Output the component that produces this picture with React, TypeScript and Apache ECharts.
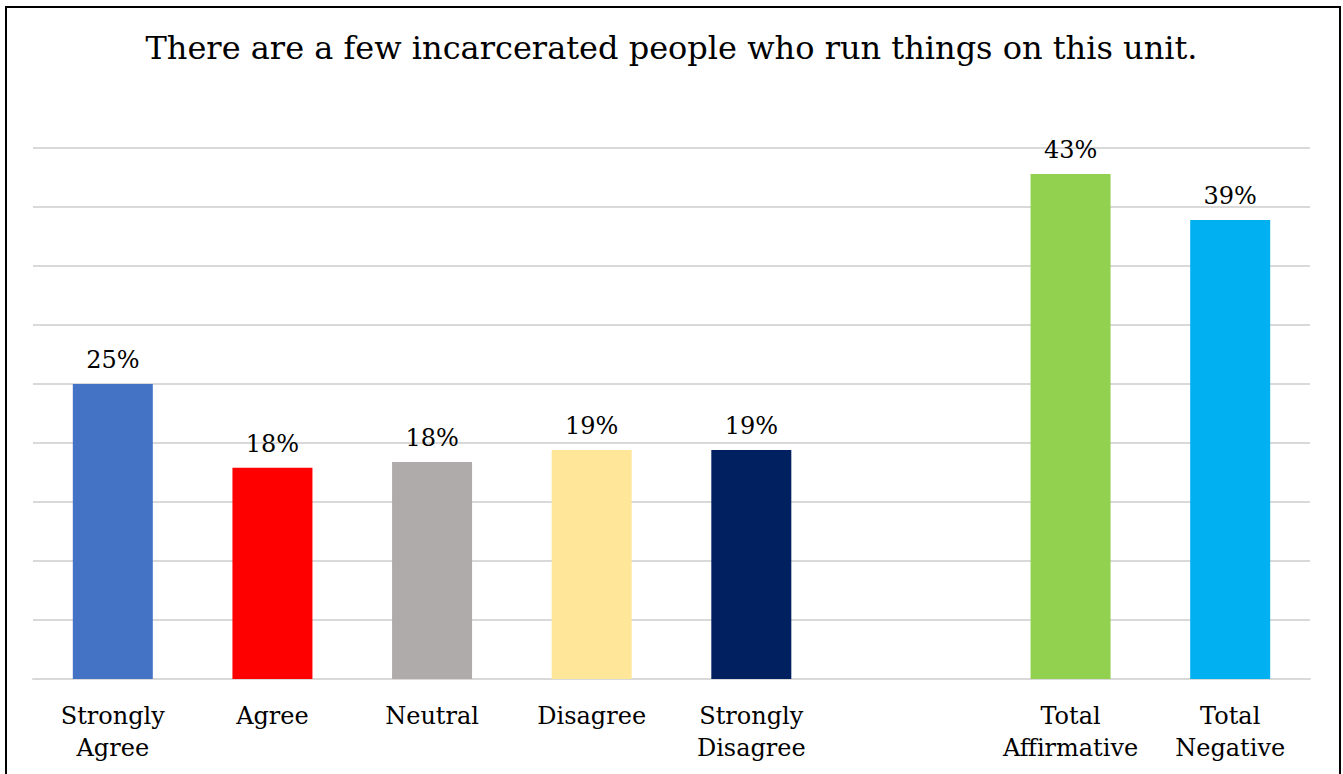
import React, { useEffect, useRef } from "react";
import * as echarts from "echarts";

const titleText = "There are a few incarcerated people who run things on this unit.";
const categories = ["Strongly\nAgree", "Agree", "Neutral", "Disagree", "Strongly\nDisagree", "", "Total\nAffirmative", "Total\nNegative"];
const values: (number | null)[] = [25, 17.9, 18.4, 19.4, 19.4, null, 42.8, 38.9];
const colors = ["#4472C4", "#FF0000", "#AFABAB", "#FFE699", "#002060", "#ffffff", "#92D050", "#00B0F0"];
const yTicks = { min: 0, max: 45, interval: 5 };

export default function App() {
  const ref = useRef<HTMLDivElement>(null);
  useEffect(() => {
    if (!ref.current) return;
    const chart = echarts.init(ref.current, null, { renderer: "svg" });
    chart.setOption({
      animation: false,
      backgroundColor: "#fff",
      graphic: [
        {
          type: "rect",
          shape: { x: 6, y: 7, width: 1334, height: 800 },
          style: { fill: "none", stroke: "#000", lineWidth: 2 },
          silent: true,
        },
      ],
      title: {
        text: titleText,
        left: "center",
        top: 27,
        textStyle: { fontFamily: "DejaVu Serif", fontSize: 32, fontWeight: "normal", color: "#000" },
      },
      grid: { left: 33, right: 33, top: 148, bottom: 95 },
      xAxis: {
        type: "category",
        data: categories,
        axisLine: { lineStyle: { color: "#d9d9d9", width: 2 } },
        axisTick: { show: false },
        axisLabel: {
          interval: 0,
          color: "#000",
          fontFamily: "DejaVu Serif",
          fontSize: 24,
          lineHeight: 32,
          margin: 21,
        },
      },
      yAxis: {
        type: "value",
        min: yTicks.min,
        max: yTicks.max,
        interval: yTicks.interval,
        axisLabel: { show: false },
        axisLine: { show: false },
        axisTick: { show: false },
        splitLine: { lineStyle: { color: "#d9d9d9", width: 2 } },
      },
      series: [
        {
          type: "bar",
          barWidth: 80,
          data: values.map((v, i) => ({ value: v, itemStyle: { color: colors[i] } })),
          label: {
            show: true,
            position: "top",
            distance: 12,
            color: "#000",
            fontFamily: "DejaVu Serif",
            fontSize: 24,
            formatter: (p: any) => (p.value == null ? "" : Math.round(p.value) + "%"),
          },
        },
      ],
    });
    return () => chart.dispose();
  }, []);
  return <div ref={ref} style={{ position: "absolute", left: 0, top: 0, width: 1343, height: 774 }} />;
}
